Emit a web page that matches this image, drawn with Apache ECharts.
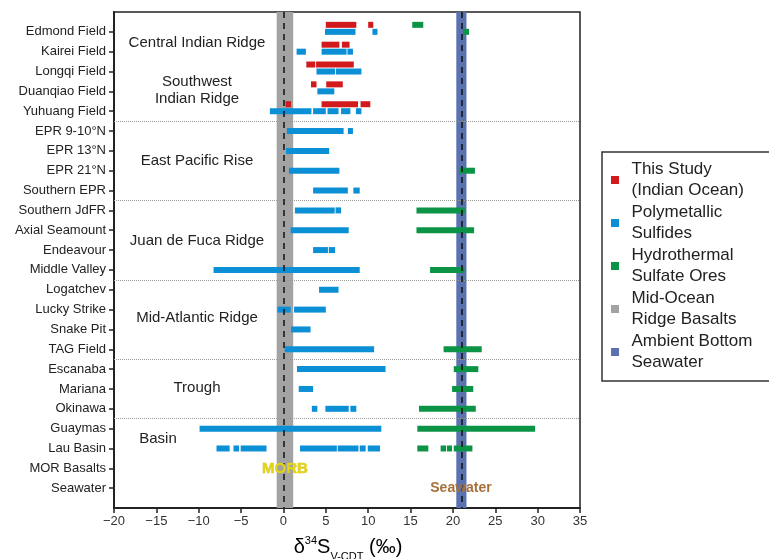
<!DOCTYPE html>
<html>
<head>
<meta charset="utf-8">
<title>d34S ranges</title>
<script src="https://cdn.jsdelivr.net/npm/echarts@6/dist/echarts.min.js"></script>
<style>
html, body { margin: 0; padding: 0; background: #fff; }
#chart { width: 769px; height: 559px; }
</style>
</head>
<body>
<div id="chart"></div>
<script>
// rows, top to bottom
var fieldNames = ['Edmond Field', 'Kairei Field', 'Longqi Field', 'Duanqiao Field', 'Yuhuang Field',
    'EPR 9-10°N', 'EPR 13°N', 'EPR 21°N', 'Southern EPR',
    'Southern JdFR', 'Axial Seamount', 'Endeavour', 'Middle Valley',
    'Logatchev', 'Lucky Strike', 'Snake Pit', 'TAG Field',
    'Escanaba', 'Mariana', 'Okinawa',
    'Guaymas', 'Lau Basin', 'MOR Basalts', 'Seawater'];

// [row, from, to]  (d34S, permil)
var studyRanges = [
    [0, 5.0, 8.6], [0, 10.0, 10.6],
    [1, 4.5, 6.6], [1, 6.9, 7.8],
    [2, 2.7, 3.75], [2, 3.85, 8.3],
    [3, 3.25, 3.9], [3, 5.05, 7.0],
    [4, 0.25, 0.9], [4, 4.5, 8.8], [4, 9.1, 10.25]
];

var sulfideRanges = [
    [0, 4.9, 8.5], [0, 10.5, 11.1],
    [1, 1.55, 2.65], [1, 4.5, 7.45], [1, 7.55, 8.2],
    [2, 3.9, 6.1], [2, 6.2, 9.2],
    [3, 4.0, 6.0],
    [4, -1.6, 3.3], [4, 3.5, 5.0], [4, 5.2, 6.5], [4, 6.8, 7.9], [4, 8.55, 9.2],
    [5, 0.4, 7.1], [5, 7.6, 8.2],
    [6, 0.3, 5.4],
    [7, 0.65, 6.6],
    [8, 3.5, 7.6], [8, 8.25, 9.0],
    [9, 1.35, 6.05], [9, 6.15, 6.8],
    [10, 0.85, 7.7],
    [11, 3.5, 5.25], [11, 5.35, 6.1],
    [12, -8.25, 9.0],
    [13, 4.2, 6.5],
    [14, -0.7, 0.85], [14, 1.25, 5.0],
    [15, 0.9, 3.2],
    [16, 0.15, 10.7],
    [17, 1.6, 12.05],
    [18, 1.8, 3.5],
    [19, 3.35, 4.0], [19, 4.95, 7.7], [19, 7.9, 8.6],
    [20, -9.9, 11.55],
    [21, -7.9, -6.35], [21, -5.9, -5.25], [21, -5.05, -2.0], [21, 1.95, 6.3], [21, 6.4, 8.85], [21, 9.0, 9.7], [21, 9.95, 11.4]
];

var sulfateRanges = [
    [0, 21.2, 21.9],
    [7, 20.8, 22.6],
    [9, 15.7, 21.4],
    [10, 15.7, 22.5],
    [12, 17.3, 21.35],
    [16, 18.9, 23.4],
    [17, 20.1, 23.0],
    [18, 19.9, 22.4],
    [19, 16.0, 22.7],
    [20, 15.8, 29.7],
    [21, 15.8, 17.1], [21, 18.55, 19.2], [21, 19.3, 19.9], [21, 20.1, 22.3]
];
// sulfate bar drawn on the upper lane (Edmond)
var sulfateUpperRanges = [
    [0, 15.2, 16.5]
];

var morbRange = [-0.8, 1.15];
var seawaterRange = [20.4, 21.6];
var morbValue = 0;
var seawaterValue = 21;
var groupBreaks = [4.5, 8.5, 12.5, 16.5, 19.5];

var Y_MIN = -1, Y_MAX = 24;
var FONT = 'Arial, "Liberation Sans", sans-serif';

var rowIdx = [];
for (var i = 0; i < fieldNames.length; i++) rowIdx.push(i);

function rangeItem(offset, height) {
    return function (params, api) {
        var row = api.value(0);
        var p0 = api.coord([api.value(1), row]);
        var p1 = api.coord([api.value(2), row]);
        return {
            type: 'rect',
            shape: { x: p0[0], y: p0[1] + offset - height / 2, width: p1[0] - p0[0], height: height },
            style: api.style()
        };
    };
}

function bandItem(params, api) {
    var p0 = api.coord([api.value(0), Y_MIN]);
    var p1 = api.coord([api.value(1), Y_MAX]);
    return {
        type: 'rect',
        shape: { x: p0[0], y: Math.min(p0[1], p1[1]), width: p1[0] - p0[0], height: Math.abs(p1[1] - p0[1]) },
        style: api.style()
    };
}

var NAME_STUDY = 'This Study\n(Indian Ocean)';
var NAME_SULFIDE = 'Polymetallic\nSulfides';
var NAME_SULFATE = 'Hydrothermal\nSulfate Ores';
var NAME_MORB = 'Mid-Ocean\nRidge Basalts';
var NAME_SEA = 'Ambient Bottom\nSeawater';

var breakLines = [];
for (var j = 0; j < groupBreaks.length; j++) breakLines.push({ yAxis: groupBreaks[j] });

function label(x, y, text, size, extra) {
    var st = { text: text, fill: '#222', font: size + 'px ' + FONT, align: 'center', verticalAlign: 'middle', lineHeight: 17 };
    if (extra) for (var k in extra) st[k] = extra[k];
    return { type: 'text', x: x, y: y, z: 20, silent: true, style: st };
}

var option = {
    animation: false,
    backgroundColor: '#fff',
    textStyle: { fontFamily: FONT },
    grid: { left: 114, right: 189, top: 12, bottom: 51, show: true, borderColor: '#222', borderWidth: 1.5 },
    legend: {
        data: [NAME_STUDY, NAME_SULFIDE, NAME_SULFATE, NAME_MORB, NAME_SEA],
        orient: 'vertical',
        left: 602,
        top: 152,
        padding: [7, 40, 8, 9],
        itemGap: 1,
        itemWidth: 23,
        itemHeight: 8,
        icon: 'path://M0,0h10v10h-10z',
        selectedMode: false,
        borderColor: '#333',
        borderWidth: 1.5,
        textStyle: { fontSize: 17, lineHeight: 21, color: '#222' }
    },
    xAxis: {
        type: 'value',
        position: 'bottom',
        min: -20,
        max: 35,
        interval: 5,
        splitLine: { show: false },
        axisLine: { show: true, onZero: false, lineStyle: { color: '#222', width: 2 } },
        axisTick: { show: true, length: 5, lineStyle: { color: '#222', width: 1.5 } },
        axisLabel: {
            color: '#333', fontSize: 13, margin: 7,
            formatter: function (v) { return String(v).replace('-', '\u2212'); }
        }
    },
    yAxis: {
        type: 'value',
        position: 'left',
        inverse: true,
        min: Y_MIN,
        max: Y_MAX,
        interval: 1,
        splitLine: { show: false },
        axisLine: { show: true, onZero: false, lineStyle: { color: '#222', width: 2 } },
        axisTick: { show: true, length: 5, customValues: rowIdx, lineStyle: { color: '#222', width: 1.5 } },
        axisLabel: {
            customValues: rowIdx,
            color: '#222', fontSize: 13, margin: 8,
            formatter: function (v) { return fieldNames[v] || ''; }
        }
    },
    series: [
        {
            name: NAME_MORB, type: 'custom', renderItem: bandItem, z: 1, silent: true,
            itemStyle: { color: '#a3a3a3' },
            encode: { x: [0, 1] },
            data: [morbRange]
        },
        {
            name: NAME_SEA, type: 'custom', renderItem: bandItem, z: 1, silent: true,
            itemStyle: { color: '#5a72b0' },
            encode: { x: [0, 1] },
            data: [seawaterRange],
            markLine: {
                silent: true, symbol: 'none', z: 6,
                label: { show: false },
                lineStyle: { color: '#111', type: [6, 5], width: 1.5 },
                data: [{ xAxis: morbValue }, { xAxis: seawaterValue }]
            }
        },
        {
            name: NAME_STUDY, type: 'custom', renderItem: rangeItem(-7, 6), z: 3, clip: true,
            itemStyle: { color: '#d21a1d' },
            encode: { x: [1, 2], y: 0 },
            data: studyRanges,
            markLine: {
                silent: true, symbol: 'none', z: 2,
                label: { show: false },
                lineStyle: { color: '#999', type: 'dotted', width: 1 },
                data: breakLines
            }
        },
        {
            name: NAME_SULFIDE, type: 'custom', renderItem: rangeItem(0, 6), z: 3, clip: true,
            itemStyle: { color: '#0b8fd5' },
            encode: { x: [1, 2], y: 0 },
            data: sulfideRanges
        },
        {
            name: NAME_SULFATE, type: 'custom', renderItem: rangeItem(0, 6), z: 3, clip: true,
            itemStyle: { color: '#0c9446' },
            encode: { x: [1, 2], y: 0 },
            data: sulfateRanges
        },
        {
            name: NAME_SULFATE, type: 'custom', renderItem: rangeItem(-7, 6), z: 3, clip: true,
            itemStyle: { color: '#0c9446' },
            encode: { x: [1, 2], y: 0 },
            data: sulfateUpperRanges
        }
    ],
    graphic: [
        label(197, 43, 'Central Indian Ridge', 15),
        label(197, 90, 'Southwest\nIndian Ridge', 15),
        label(197, 161, 'East Pacific Rise', 15),
        label(197, 241, 'Juan de Fuca Ridge', 15),
        label(197, 318, 'Mid-Atlantic Ridge', 15),
        label(197, 388, 'Trough', 15),
        label(158, 439, 'Basin', 15),
        label(285, 469, 'MORB', 15, { fill: '#e4d418', font: 'bold 15px ' + FONT, stroke: '#cbb90f', lineWidth: 0.5 }),
        label(461, 488, 'Seawater', 14, { fill: '#a5703a', font: 'bold 14px ' + FONT }),
        {
            type: 'text', x: 348, y: 547, z: 20, silent: true,
            style: {
                text: '{n|δ}{sup|34}{n|S}{sub|V-CDT}{n| (‰)}',
                align: 'center', verticalAlign: 'middle',
                rich: {
                    n: { fontSize: 20, fontFamily: FONT, color: '#222', lineHeight: 24 },
                    sup: { fontSize: 11, fontFamily: FONT, color: '#222', lineHeight: 12, verticalAlign: 'top' },
                    sub: { fontSize: 11, fontFamily: FONT, color: '#222', lineHeight: 12, verticalAlign: 'bottom', padding: [0, 0, -3, 0] }
                }
            }
        }
    ]
};

var chart = echarts.init(document.getElementById('chart'));
chart.setOption(option);
</script>
</body>
</html>
